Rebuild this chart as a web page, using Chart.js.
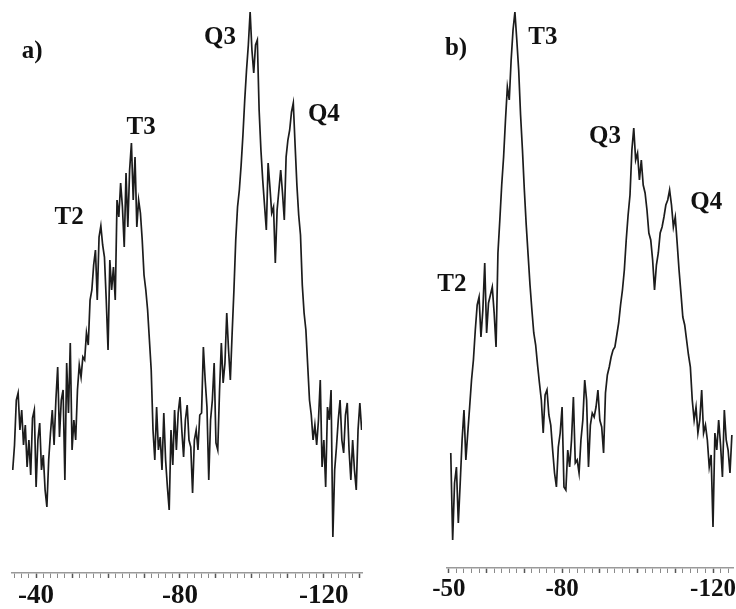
<!DOCTYPE html>
<html>
<head>
<meta charset="utf-8">
<script src="https://cdn.jsdelivr.net/npm/chart.js@4.4.1/dist/chart.umd.min.js"></script>
<style>
  html, body { margin: 0; padding: 0; background: #fff; }
  #wrap { position: relative; width: 736px; height: 609px; overflow: hidden; }
  canvas { position: absolute; top: 0; }
  #chartA { left: 0; }
  #chartB { left: 420px; }
</style>
</head>
<body>
<div id="wrap">
  <canvas id="chartA" width="375" height="609"></canvas>
  <canvas id="chartB" width="316" height="609"></canvas>
</div>
<script>
// panel a) : chemical shift grid (ppm) and intensity (a.u.)
const shiftStartA = -33.5;
const shiftStepA = 0.5;
const intensA = [
  103, 128, 173, 180, 143, 163, 128, 148, 106, 133, 98, 155, 163, 86, 133, 150, 103, 118, 83, 66,
  113, 140, 163, 128, 173, 206, 136, 173, 183, 93, 210, 160, 230, 123, 153, 133, 183, 208, 196, 216,
  213, 240, 228, 273, 283, 308, 323, 273, 336, 347, 328, 316, 273, 223, 313, 283, 306, 273, 373, 356,
  390, 366, 326, 400, 346, 403, 430, 373, 416, 346, 373, 360, 333, 298, 283, 263, 233, 203, 143, 113,
  166, 123, 136, 103, 160, 113, 86, 63, 143, 108, 163, 123, 160, 176, 143, 116, 153, 168, 133, 126,
  80, 133, 143, 123, 158, 160, 226, 193, 166, 93, 153, 173, 210, 130, 123, 183, 230, 190, 210, 260,
  223, 193, 240, 283, 333, 366, 383, 408, 438, 473, 503, 528, 561, 523, 500, 528, 533, 463, 423, 393,
  368, 343, 410, 386, 360, 366, 310, 363, 383, 403, 380, 353, 416, 433, 443, 461, 470, 428, 388, 358,
  338, 288, 260, 243, 208, 173, 158, 133, 148, 128, 153, 193, 106, 133, 86, 166, 153, 183, 36, 103,
  126, 153, 173, 133, 120, 158, 170, 123, 93, 133, 103, 83, 143, 170, 143
];
const axisA = { min: -130.6, max: -33.3, labels: [-40, -80, -120] };
const peakNamesA = ["a)", "T2", "T3", "Q3", "Q4"];
const peakShiftsA = [-38.9, -49.2, -69.2, -91.1, -120];
const peakHeightsA = [521, 355, 445, 535, 458];

// panel b)
const shiftStartB = -50.5;
const shiftStepB = 0.5;
const intensB = [
  115, 28, 85, 101, 45, 85, 128, 158, 108, 135, 161, 188, 208, 238, 263, 271, 231, 258, 305, 235,
  265, 273, 281, 255, 221, 315, 348, 383, 411, 448, 481, 468, 508, 538, 556, 528, 498, 453, 418, 378,
  343, 313, 283, 258, 235, 223, 203, 185, 168, 135, 173, 178, 153, 143, 118, 95, 81, 121, 135, 161,
  81, 78, 118, 101, 128, 171, 105, 108, 95, 128, 148, 188, 168, 101, 143, 155, 151, 161, 178, 148,
  141, 115, 175, 193, 201, 211, 218, 221, 233, 245, 263, 278, 298, 328, 353, 373, 418, 440, 408, 415,
  388, 408, 383, 375, 358, 335, 328, 308, 278, 303, 315, 335, 341, 351, 363, 368, 378, 363, 341, 351,
  325, 298, 275, 251, 243, 228, 213, 201, 168, 148, 161, 135, 148, 178, 135, 143, 128, 101, 113, 41,
  135, 118, 148, 123, 91, 158, 128, 118, 95, 133
];
const axisB = { min: -125.3, max: -49.5, labels: [-50, -80, -120] };
const peakNamesB = ["b)", "T3", "Q3", "Q4", "T2"];
const peakShiftsB = [-51.9, -74.9, -91.4, -118.2, -50.8];
const peakHeightsB = [519, 530, 431, 365, 283];

const labelFont = 'bold 25px "Liberation Serif", "Times New Roman", serif';

// draws the peak names at their (ppm, intensity) positions
const peakLabels = {
  id: "peakLabels",
  afterDatasetsDraw(chart, args, opts) {
    const { ctx, scales } = chart;
    ctx.save();
    ctx.font = labelFont;
    ctx.fillStyle = "#111";
    ctx.textAlign = "center";
    ctx.textBaseline = "middle";
    opts.names.forEach((name, i) => {
      ctx.fillText(name, scales.x.getPixelForValue(opts.shifts[i]), scales.y.getPixelForValue(opts.heights[i]));
    });
    ctx.restore();
  },
};

function makePanel(canvasId, start, step, intens, axis, names, shifts, heights, cfg) {
  const points = intens.map((v, i) => ({ x: start - i * step, y: v }));
  const isMajor = (v) => Math.abs(v % 10) < 1e-6;
  return new Chart(document.getElementById(canvasId), {
    type: "line",
    data: {
      datasets: [{
        data: points,
        borderColor: "#1c1c1c",
        borderWidth: 1.7,
        pointRadius: 0,
        tension: 0,
        fill: false,
      }],
    },
    plugins: [peakLabels],
    options: {
      responsive: false,
      animation: false,
      layout: { padding: { left: cfg.padLeft, right: cfg.padRight, top: 0, bottom: 0 } },
      plugins: {
        legend: { display: false },
        tooltip: { enabled: false },
        peakLabels: { names, shifts, heights },
      },
      scales: {
        x: {
          type: "linear",
          reverse: true,
          min: axis.min,
          max: axis.max,
          afterFit: (scale) => { scale.height = cfg.axisHeight; },
          border: { display: true, color: "#9a9a9a", width: 1.5 },
          grid: {
            drawOnChartArea: false,
            drawTicks: true,
            tickLength: 5,
            tickWidth: (c) => (c.tick && isMajor(c.tick.value) ? 1.5 : 1),
            tickColor: (c) => (c.tick && isMajor(c.tick.value) ? "#555" : "#8a8a8a"),
          },
          ticks: {
            stepSize: 2,
            includeBounds: false,
            autoSkip: false,
            maxRotation: 0,
            padding: 2,
            color: "#111",
            font: { family: '"Liberation Serif", "Times New Roman", serif', size: cfg.tickSize, weight: "bold" },
            callback: (v) => (axis.labels.some((l) => Math.abs(l - v) < 1e-6) ? String(v) : ""),
          },
        },
        y: {
          display: false,
          min: 0,
          max: cfg.yMax,
        },
      },
    },
  });
}

makePanel("chartA", shiftStartA, shiftStepA, intensA, axisA, peakNamesA, peakShiftsA, peakHeightsA,
  { padLeft: 12, padRight: 13, axisHeight: 36, yMax: 573, tickSize: 27 });
makePanel("chartB", shiftStartB, shiftStepB, intensB, axisB, peakNamesB, peakShiftsB, peakHeightsB,
  { padLeft: 27, padRight: 3, axisHeight: 41, yMax: 568, tickSize: 25 });
</script>
</body>
</html>
